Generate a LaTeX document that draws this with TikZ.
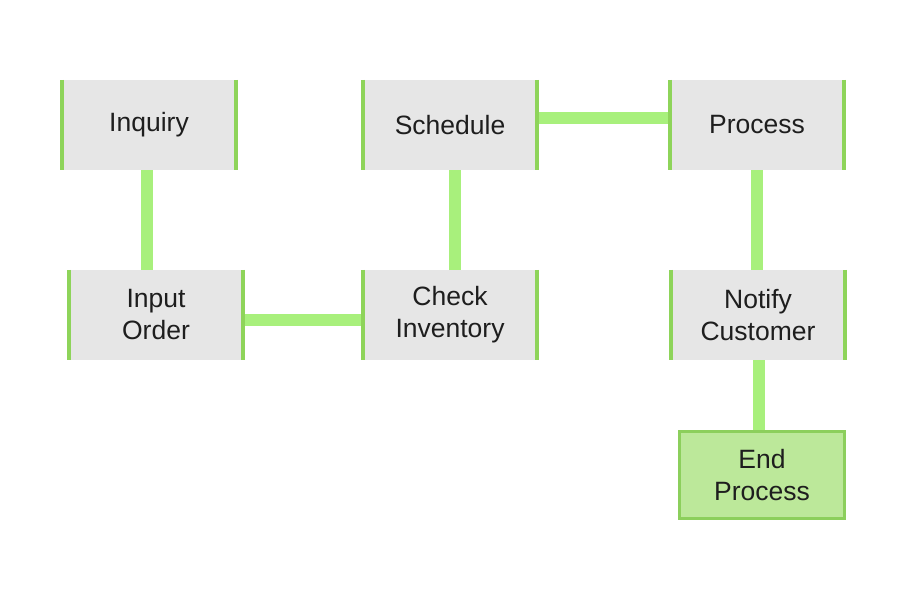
\documentclass[tikz,border=0pt]{standalone}
\usepackage{fontspec}
\setmainfont{Liberation Sans}
\usetikzlibrary{backgrounds}
\definecolor{boxgray}{HTML}{E6E6E6}
\definecolor{bargreen}{HTML}{8ED45A}
\definecolor{conngreen}{HTML}{A8F07C}
\definecolor{endfill}{HTML}{BCE89A}
\definecolor{endborder}{HTML}{8CCF5C}
\definecolor{txt}{HTML}{1E1E1E}
\tikzset{
  x=1pt,y=-1pt,
  stepbox/.style={fill=boxgray, minimum width=174pt, minimum height=90pt, inner sep=0pt,
    align=center, font=\fontsize{26.5}{32}\selectfont, text=txt},
  endbox/.style={stepbox, fill=endfill, draw=endborder, line width=3.5pt, minimum width=165pt, minimum height=87pt},
  bar/.style={draw=bargreen, line width=4.5pt},
  conn/.style={draw=conngreen, line width=12pt},
}
\begin{document}
\begin{tikzpicture}
\useasboundingbox (0,0) rectangle (909,607);
\node[stepbox] (inq) at (149,125) {Inquiry};
\node[stepbox] (sch) at (450,125) {Schedule};
\node[stepbox] (pro) at (757,125) {Process};
\node[stepbox] (inp) at (156,315) {Input\\Order};
\node[stepbox] (chk) at (450,315) {Check\\Inventory};
\node[stepbox] (ntf) at (758,315) {Notify\\Customer};
\node[endbox] (end) at (762,475) {End\\Process};
\foreach \n in {inq,sch,pro,inp,chk,ntf}{
  \draw[bar] (\n.north west) -- (\n.south west) (\n.north east) -- (\n.south east);
}
\begin{scope}[on background layer]
\fill[white] (0,0) rectangle (909,607);
\draw[conn] ([xshift=-2pt]inq.south) -- ([xshift=-2pt]inq.south |- inp.north);
\draw[conn] ([yshift=-5pt]inp.east) -- ([yshift=-5pt]inp.east -| chk.west);
\draw[conn] ([xshift=5pt]chk.north) -- ([xshift=5pt]chk.north |- sch.south);
\draw[conn] ([yshift=7pt]sch.east) -- ([yshift=7pt]sch.east -| pro.west);
\draw[conn] (pro.south) -- (pro.south |- ntf.north);
\draw[conn] ([xshift=1pt]ntf.south) -- ([xshift=1pt]ntf.south |- end.north);
\end{scope}
\end{tikzpicture}
\end{document}
